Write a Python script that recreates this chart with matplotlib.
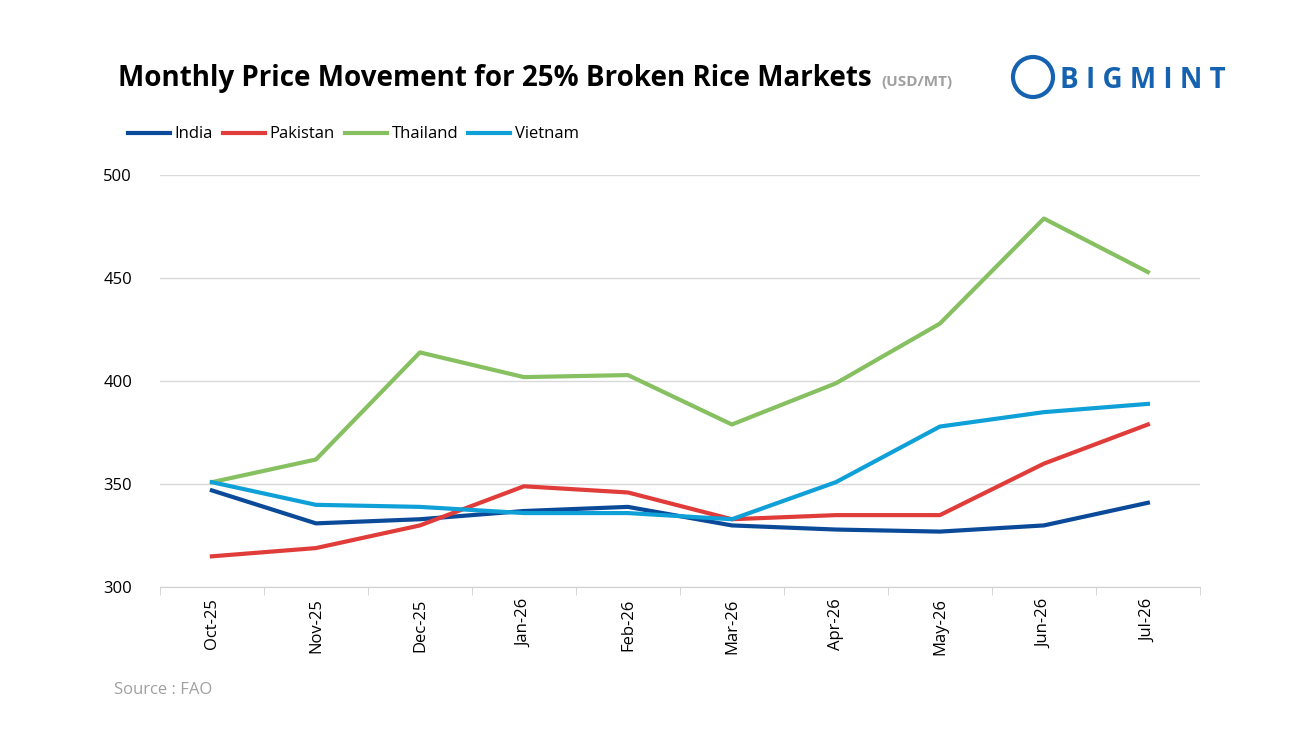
import matplotlib.pyplot as plt
from matplotlib.patches import Ellipse
import numpy as np

months = ["Oct-25", "Nov-25", "Dec-25", "Jan-26", "Feb-26", "Mar-26", "Apr-26", "May-26", "Jun-26", "Jul-26"]
india = [347, 331, 333, 337, 339, 330, 328, 327, 330, 341]
pakistan = [315, 319, 330, 349, 346, 333, 335, 335, 360, 379]
thailand = [351, 362, 414, 402, 403, 379, 399, 428, 479, 453]
vietnam = [351, 340, 339, 336, 336, 333, 351, 378, 385, 389]

plt.rcParams['font.family'] = ['Open Sans', 'DejaVu Sans']

fig = plt.figure(figsize=(13, 7.49), dpi=100)
ax = fig.add_axes([0.123, 0.216, 0.8, 0.55])
x = np.arange(len(months))
ax.plot(x, india, color="#0b4a99", lw=3, label="India")
ax.plot(x, pakistan, color="#e03c3a", lw=3, label="Pakistan")
ax.plot(x, thailand, color="#86c060", lw=3, label="Thailand")
ax.plot(x, vietnam, color="#0fa0d8", lw=3, label="Vietnam")

ax.set_xlim(-0.5, len(months) - 0.5)
ax.set_ylim(300, 500)
ax.set_yticks([300, 350, 400, 450, 500])
ax.set_xticks(x)
ax.set_xticklabels(months, rotation=90, fontsize=12)
ax.set_xticks(np.arange(-0.5, len(months)), minor=True)
ax.tick_params(axis="x", which="major", length=0, pad=8)
ax.tick_params(axis="x", which="minor", length=6, color="#d0d0d0")
ax.tick_params(axis="y", length=0, labelsize=12, pad=20)
ax.grid(axis="y", color="#d9d9d9", lw=1)
for s in ["top", "right", "left"]:
    ax.spines[s].set_visible(False)
ax.spines["bottom"].set_color("#d0d0d0")

ax.legend(loc="upper left", bbox_to_anchor=(-0.045, 1.155), ncol=4, frameon=False,
          fontsize=12, handlelength=2.5, columnspacing=0.6, handletextpad=0.3)

fig.text(0.091, 0.895, "Monthly Price Movement for 25% Broken Rice Markets", fontsize=20,
         fontweight="bold", va="center")
fig.text(0.678, 0.891, "(USD/MT)", fontsize=11, fontweight="bold", color="#a0a0a0", va="center")
fig.text(0.815, 0.893, "B I G M I N T", fontsize=20, fontweight="bold", color="#1462b0", va="center")
fig.patches.append(Ellipse((1033 / 1300, 1 - 77 / 749), 40 / 1300, 40 / 749, transform=fig.transFigure,
                           color="#1462b0", fill=False, lw=3))
fig.text(0.088, 0.074, "Source : FAO", fontsize=12, color="#a0a0a0")

fig.savefig("out.png")
